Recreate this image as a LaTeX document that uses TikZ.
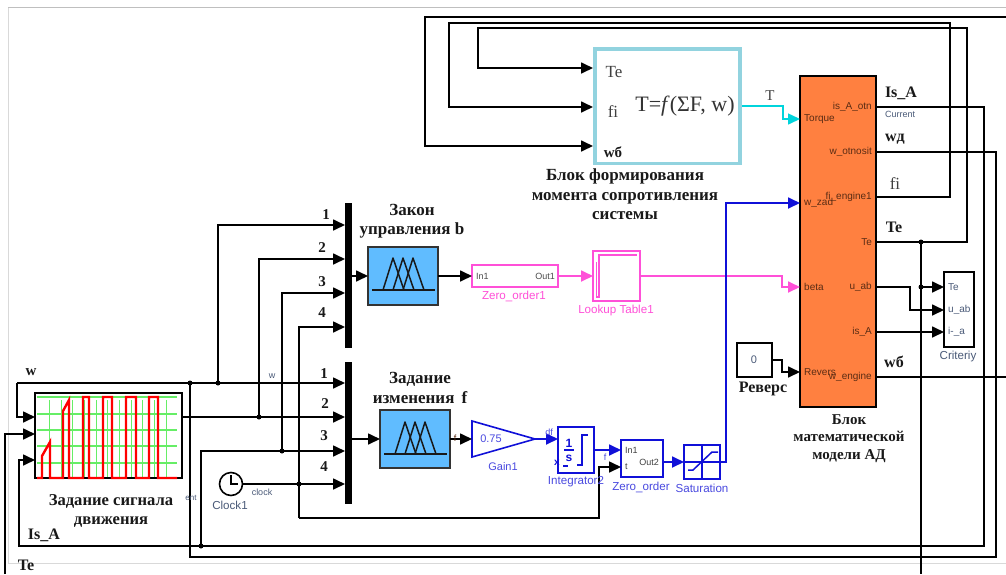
\documentclass[tikz,border=0pt]{standalone}
\usepackage{fontspec}
\setmainfont{Liberation Serif}
\setsansfont{Liberation Sans}
\usetikzlibrary{arrows.meta}
\definecolor{cBlue}{HTML}{1010D8}
\definecolor{cLBlue}{HTML}{4A4AE0}
\definecolor{cMag}{HTML}{FF50D8}
\definecolor{cCyan}{HTML}{00D4DC}
\definecolor{cFrame}{HTML}{92D3DF}
\definecolor{cOrange}{HTML}{FF8040}
\definecolor{cFuzzy}{HTML}{60BCFF}
\definecolor{cSlate}{HTML}{4A5A78}
\definecolor{cPort}{HTML}{5A2C14}
\definecolor{cGrid}{HTML}{66EE66}
\tikzset{
  x=1pt,y=-1pt,
  wire/.style={line width=1.7pt,draw=black},
  wtip/.style={-{Triangle[length=12pt,width=11pt]}},
  bluewire/.style={line width=1.8pt,draw=cBlue},
  blk/.style={draw=black,line width=1.6pt,fill=white,inner sep=0pt,outer sep=0pt,anchor=north west},
  bbk/.style={blk,draw=cBlue},
  mbk/.style={blk,draw=cMag,line width=1.8pt},
  fuzzy/.style={blk,fill=cFuzzy,draw=black!80},
  muxbar/.style={fill=black,draw=none,inner sep=0pt,outer sep=0pt,anchor=north west},
  jdot/.style={circle,fill=black,inner sep=0pt,minimum size=5pt},
  capt/.style={font=\bfseries\fontsize{17}{19.5}\selectfont,align=center,inner sep=0pt,text=black!90},
  lab/.style={font=\bfseries\fontsize{16}{19}\selectfont,inner sep=0pt,text=black!90},
  numb/.style={font=\bfseries\fontsize{15}{18}\selectfont,inner sep=0pt,text=black!90},
  plainlab/.style={font=\fontsize{17}{19}\selectfont,inner sep=0pt,text=black!75},
  sm/.style={font=\sffamily\fontsize{11.6}{13}\selectfont,inner sep=0pt},
  smm/.style={font=\sffamily\fontsize{9}{11}\selectfont,inner sep=0pt},
  portlab/.style={font=\sffamily\fontsize{10}{12}\selectfont,inner sep=0pt,text=cPort},
}
\begin{document}
\begin{tikzpicture}
\useasboundingbox (0,0) rectangle (1006,574);
\fill[white] (0,0) rectangle (1006,574);
% window frame
\draw[black!25,line width=1pt] (8,7.5) -- (1006,7.5);
\draw[black!15,line width=1pt] (8,7.5) -- (8,563) -- (1006,563);

% ports and bends
\coordinate (sIn1) at (35,417);
\coordinate (sIn2) at (35,434);
\coordinate (sIn3) at (35,460);
\coordinate (sOut) at (182,417);
\coordinate (mA1) at (345,225);
\coordinate (mA2) at (345,259);
\coordinate (mA3) at (345,293);
\coordinate (mA4) at (345,327);
\coordinate (mB1) at (345,383);
\coordinate (mB2) at (345,417);
\coordinate (mB3) at (345,451);
\coordinate (mB4) at (345,484);
\coordinate (wa) at (17,383);
\coordinate (tIn1) at (593,68);
\coordinate (tIn2) at (593,107);
\coordinate (tIn3) at (593,146);
\coordinate (tOut) at (742,106);
\coordinate (oIsA) at (876,107);
\coordinate (oWo) at (876,152);
\coordinate (oFi) at (876,197);
\coordinate (oTe) at (876,242);
\coordinate (oU) at (876,287);
\coordinate (oIa) at (876,332);
\coordinate (oWe) at (876,377);
\coordinate (iTq) at (800,119);
\coordinate (iWz) at (800,203);
\coordinate (iBt) at (800,287);
\coordinate (iRv) at (800,372);
\coordinate (cIn1) at (944,287);
\coordinate (cIn2) at (944,310);
\coordinate (cIn3) at (944,332);
\coordinate (zIn1) at (621,450);
\coordinate (zIn2) at (621,467);
\coordinate (bIs) at (984,546);
\coordinate (bIs2) at (19,546);
\coordinate (bW) at (996,557);
\coordinate (bW2) at (190,557);
\coordinate (bF) at (950,23);
\coordinate (bF2) at (449,23);
\coordinate (bT) at (967,28);
\coordinate (bT2) at (478,28);
\coordinate (eR) at (1006,377);
\coordinate (eT) at (1006,17);
\coordinate (eT2) at (425,17);
\coordinate (teDown) at (921,574);
\coordinate (teUp) at (5,574);
\coordinate (bZ) at (299,518);
\coordinate (bZ2) at (599,518);
\coordinate (bU) at (910,310);
\coordinate (bTq) at (783,119);
\coordinate (bBt) at (782,287);
\coordinate (bWz) at (726,203);

% blocks
\node[blk,line width=2pt,minimum width=147pt,minimum height=85pt] (scope) at (35,393) {};
\begin{scope}
\foreach \gy in {397,414,430,446,463} \draw[cGrid,line width=1.1pt] (37,\gy) -- (177,\gy);
\foreach \gx in {49,61,72,84,96,107,119,131,142,154,166} \draw[cGrid,line width=.9pt] (\gx,400) -- (\gx,477);
\draw[red,line width=2.4pt,line join=miter] (37,478) -- (42,478) -- (42,456) -- (50,442) -- (50,478) -- (63,478) -- (63,411) -- (69,400) -- (69,478) -- (83,478) -- (83,397) -- (89,397) -- (89,478) -- (103,478) -- (103,397) -- (112,397) -- (112,478) -- (126,478) -- (126,397) -- (136,397) -- (136,478) -- (149,478) -- (149,397) -- (158,397) -- (158,478) -- (177,478);
\end{scope}

\node[muxbar,minimum width=7pt,minimum height=145pt] (muxA) at (345,203) {};
\node[muxbar,minimum width=7pt,minimum height=142pt] (muxB) at (345,362) {};

\node[fuzzy,minimum width=70pt,minimum height=58pt] (fzA) at (368,247) {};
\node[fuzzy,minimum width=70pt,minimum height=58pt] (fzB) at (380,410) {};
\foreach \ox/\oy in {0/0,12/164}{
  \begin{scope}[shift={(\ox,\oy)},line width=1.5pt,black!90,line join=round]
  \draw (372,290) -- (435,290);
  \draw (383,290) -- (393,258) -- (404,290);
  \draw (393,290) -- (403,258) -- (414,290);
  \draw (403,290) -- (413,258) -- (424,290);
  \end{scope}
}

\node[mbk,minimum width=86pt,minimum height=22pt] (zoA) at (472,265) {};
\node[mbk,minimum width=47pt,minimum height=50pt] (lut) at (593,251) {};
\draw[cMag,line width=1.3pt] (596,297) -- (599,297) -- (599,255) -- (637,255);
\draw[cMag,line width=.7pt] (596,297) -- (596,262);

\node[blk,draw=cFrame,line width=3.6pt,minimum width=145pt,minimum height=114.5pt] (tblk) at (595,49) {};
\node[blk,fill=cOrange,minimum width=76pt,minimum height=331pt] (motor) at (800,76) {};
\node[blk,minimum width=30pt,minimum height=75pt] (crit) at (944,272) {};
\node[blk,minimum width=35pt,minimum height=34pt] (konst) at (737,343) {};

\draw[draw=cBlue,line width=1.6pt,fill=white,line join=miter] (472,421) -- (535,439) -- (472,457) -- cycle;
\coordinate (gIn) at (472,439);
\coordinate (gOut) at (535,439);
\node[bbk,minimum width=36pt,minimum height=46pt] (integ) at (558,427) {};
\node[bbk,minimum width=42pt,minimum height=37pt] (zoB) at (621,440) {};
\node[bbk,minimum width=36pt,minimum height=34pt] (sat) at (684,445) {};
\draw[cBlue,line width=1.3pt] (702,445) -- (702,479) (684,462) -- (720,462);
\draw[cBlue,line width=1.5pt] (688,470) -- (693,470) -- (712,452) -- (718,452);
\draw[cBlue,line width=1.4pt] (564,450) -- (574,450);
\draw[cBlue,line width=1.5pt] (577,465) -- (582,465) -- (582,435) -- (588,435);
\node[font=\sffamily\bfseries\fontsize{12}{13}\selectfont,text=cBlue,inner sep=0pt] (i1) at (569,443) {1};
\node[font=\sffamily\bfseries\fontsize{12}{13}\selectfont,text=cBlue,inner sep=0pt] (is) at (569,458) {s};
\node[font=\sffamily\bfseries\fontsize{10}{12}\selectfont,text=cBlue,inner sep=0pt] (ix) at (557,463) {x};
\draw[cBlue,line width=1.3pt] (563,466) -- (568,466);

\node[circle,draw=black,line width=1.6pt,fill=white,minimum size=23pt,inner sep=0pt,outer sep=0pt] (clock) at (231,484) {};
\draw[black,line width=1.4pt] (231,475) -- (231,484) -- (238,484);

% black wires
\draw[wire,wtip] (wa) -- (mB1);
\draw[wire,wtip] (wa) |- (sIn1);
\coordinate (j218) at (218,383);
\draw[wire,wtip] (j218) |- (mA1);
\draw[wire,wtip] (sOut) -- (mB2);
\coordinate (j259) at (259,417);
\draw[wire,wtip] (j259) |- (mA2);
\coordinate (j282) at (282,451);
\draw[wire,wtip] (j282) |- (mA3);
\coordinate (j201) at (201,546);
\draw[wire,wtip] (j201) |- (mB3);
\draw[wire,wtip] (clock) -- (mB4);
\draw[wire,wtip] (bZ) |- (mA4);
\draw[wire,wtip] (bZ) -- (bZ2) |- (zIn2);
\draw[wire,wtip] (oIsA) -| (bIs) -- (bIs2) |- (sIn3);
\coordinate (j190) at (190,383);
\draw[wire] (oWo) -| (bW) -- (bW2) -- (j190);
\draw[wire,wtip] (oFi) -| (bF) -- (bF2) |- (tIn2);
\draw[wire,wtip] (oTe) -| (bT) -- (bT2) |- (tIn1);
\draw[wire] (oWe) -- (eR);
\draw[wire,wtip] (eT) -- (eT2) |- (tIn3);
\coordinate (jTe) at (921,242);
\coordinate (jTe2) at (921,287);
\draw[wire] (jTe) -- (teDown);
\draw[wire,wtip] (jTe2) -- (cIn1);
\draw[wire,wtip] (teUp) |- (sIn2);
\draw[wire,wtip] (oU) -| (bU) -- (cIn2);
\draw[wire,wtip] (oIa) -- (cIn3);
\draw[wire,wtip] (konst.east) -| ([xshift=10pt]konst.east) |- (iRv);
\draw[wire,wtip] (muxA.east |- fzA.west) -- (fzA.west);
\draw[wire,wtip] (fzA.east) -- (zoA.west);
\draw[wire,wtip] (muxB.east |- fzB.west) -- (fzB.west);
\draw[wire,wtip] (fzB.east) -- (gIn);

% coloured wires
\draw[line width=1.8pt,draw=cMag,wtip] (zoA.east) -- (lut.west);
\draw[line width=1.8pt,draw=cMag,wtip] (lut.east) -| (bBt) -- (iBt);
\draw[line width=1.5pt,draw=cCyan,wtip] (tOut) -| (bTq) -- (iTq);
\draw[bluewire,wtip] (gOut) -- (gOut -| integ.west);
\draw[bluewire,wtip] (integ.east |- zIn1) -- (zIn1);
\draw[bluewire,wtip] (zoB.east |- sat.west) -- (sat.west);
\draw[bluewire,wtip] (sat.east) -| (bWz) -- (iWz);

% junction dots
\foreach \n/\pos in {d1/j190,d2/j218,d3/j259,d4/j282,d5/j201,d7/jTe,d8/jTe2}
  \node[jdot] (\n) at (\pos) {};
\node[jdot] (d6) at (299,484) {};

% captions
\node[capt] (c1) at (412,221) {Закон\\управления b};
\node[capt] (c2) at (420,388) {Задание\\изменения\, f};
\node[capt,font=\bfseries\fontsize{16.6}{19.5}\selectfont] (c3) at (111,511) {Задание сигнала\\движения};
\node[capt] (c4) at (625,194.5) {Блок формирования\\момента сопротивления\\системы};
\node[capt,font=\bfseries\fontsize{15}{17.8}\selectfont] (c5) at (849,438.5) {Блок\\математической\\модели АД};
\node[lab] (r) at (763,389) {Реверс};
\node[lab] (l1) at (901,93) {Is\_A};
\node[lab] (l2) at (895,139) {wд};
\node[plainlab] (l3) at (895,184) {fi};
\node[lab] (l4) at (894,227) {Te};
\node[lab] (l5) at (894,362) {wб};
\node[lab,font=\bfseries\fontsize{15}{18}\selectfont] (l6) at (31,372) {w};
\node[lab] (l7) at (44,535) {Is\_A};
\node[lab] (l8) at (26,565) {Te};
\node[numb] (na1) at (326,215) {1};
\node[numb] (na2) at (322,248) {2};
\node[numb] (na3) at (322,282) {3};
\node[numb] (na4) at (322,313) {4};
\node[numb] (nb1) at (324,374) {1};
\node[numb] (nb2) at (325,404) {2};
\node[numb] (nb3) at (324,436) {3};
\node[numb] (nb4) at (324,467) {4};

% T block
\node[plainlab] (t1) at (614,72) {Te};
\node[plainlab] (t2) at (613,112) {fi};
\node[lab,font=\bfseries\fontsize{15}{18}\selectfont] (t3) at (613,152) {wб};
\node[font=\fontsize{22}{24}\selectfont,inner sep=0pt,text=black!80] (t4) at (685,106) {T=\textit{f}(ΣF, w)};
\node[font=\fontsize{15}{18}\selectfont,inner sep=0pt,text=black!75] (t5) at (770,96) {T};

% motor ports
\node[portlab,anchor=west] (p1) at (804,119) {Torque};
\node[portlab,anchor=west] (p2) at (804,203) {w\_zad};
\node[portlab,anchor=west] (p3) at (804,287) {beta};
\node[portlab,anchor=west] (p4) at (804,372) {Revers};
\node[portlab,anchor=east] (p5) at (872,107) {is\_A\_otn};
\node[portlab,anchor=east] (p6) at (872,152) {w\_otnosit};
\node[portlab,anchor=east] (p7) at (872,197) {fi\_engine1};
\node[portlab,anchor=east] (p8) at (872,242) {Te};
\node[portlab,anchor=east] (p9) at (872,287) {u\_ab};
\node[portlab,anchor=east] (p10) at (872,332) {is\_A};
\node[portlab,anchor=east] (p11) at (872,377) {w\_engine};

% Criteriy
\node[portlab,anchor=west,text=cSlate] (q1) at (948,287) {Te};
\node[portlab,anchor=west,text=cSlate] (q2) at (948,310) {u\_ab};
\node[portlab,anchor=west,text=cSlate] (q3) at (948,332) {i-\_a};
\node[sm,text=cSlate] (q4) at (958,356) {Criteriy};
\node[font=\sffamily\fontsize{11}{12}\selectfont,inner sep=0pt,text=cSlate] (q5) at (754,360) {0};

% small labels
\node[smm,text=cSlate,anchor=west] (s1) at (885,114) {Current};
\node[smm,text=cSlate] (s2) at (272,376) {w};
\node[smm,text=cSlate] (s3) at (262,492) {clock};
\node[sm,text=cSlate] (s4) at (230,505) {Clock1};
\node[smm,text=cSlate,font=\sffamily\fontsize{8}{10}\selectfont] (s5) at (191,498) {ent};
\node[smm,text=cPort,font=\sffamily\fontsize{9}{11}\selectfont] (s6) at (455,438) {f};

\node[smm,text=black!70,anchor=west] (m1) at (476,276) {In1};
\node[smm,text=black!70,anchor=east] (m2) at (555,276) {Out1};
\node[sm,text=cMag] (m3) at (514,296) {Zero\_order1};
\node[sm,text=cMag] (m4) at (616,310) {Lookup Table1};

\node[font=\sffamily\fontsize{11}{12}\selectfont,text=cLBlue,inner sep=0pt] (g1) at (491,439) {0.75};
\node[sm,text=cLBlue,font=\sffamily\fontsize{11}{12}\selectfont] (g2) at (503,467) {Gain1};
\node[smm,text=cLBlue] (g3) at (549,432) {df};
\node[smm,text=cLBlue] (g4) at (605,457) {f};
\node[sm,text=cLBlue] (g5) at (576,482) {Integrator2};
\node[sm,text=cLBlue] (g6) at (641,487) {Zero\_order};
\node[sm,text=cLBlue] (g7) at (702,488) {Saturation};
\node[smm,text=black!75,anchor=west] (g8) at (625,450) {In1};
\node[smm,text=black!75,anchor=west] (g9) at (625,467) {t};
\node[smm,text=black!75,anchor=east] (g10) at (659,462) {Out2};
\end{tikzpicture}
\end{document}
